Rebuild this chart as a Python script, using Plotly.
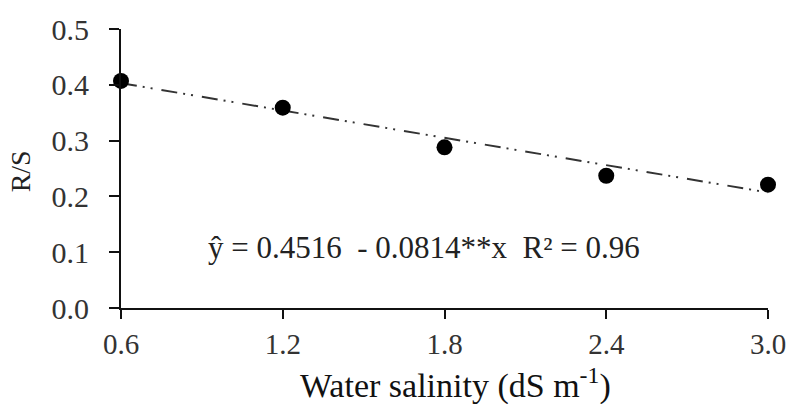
import plotly.graph_objects as go

# Data
salinity = [0.6, 1.2, 1.8, 2.4, 3.0]
rs_ratio = [0.407, 0.359, 0.288, 0.237, 0.221]

# Fitted line endpoints (ŷ = 0.4516 - 0.0814x)
fit_x = [0.6, 3.0]
fit_y = [0.403, 0.207]

x_ticks = [0.6, 1.2, 1.8, 2.4, 3.0]
x_ticklabels = ["0.6", "1.2", "1.8", "2.4", "3.0"]
y_ticks = [0.0, 0.1, 0.2, 0.3, 0.4, 0.5]
y_ticklabels = ["0.0", "0.1", "0.2", "0.3", "0.4", "0.5"]

equation = "ŷ = 0.4516  - 0.0814**x  R² = 0.96"
x_title = "Water salinity (dS m<sup>-1</sup>)"
y_title = "R/S"

FONT = "Liberation Serif"

fig = go.Figure()
fig.add_trace(go.Scatter(
    x=fit_x, y=fit_y, mode="lines",
    line=dict(color="#333333", width=2, dash="16px,6px,2px,6px,2px,9px"),
    hoverinfo="skip", showlegend=False, cliponaxis=False,
))
fig.add_trace(go.Scatter(
    x=salinity, y=rs_ratio, mode="markers",
    marker=dict(color="black", size=16),
    showlegend=False, cliponaxis=False,
))

fig.add_annotation(
    x=0.131, xref="paper", y=0.108, yref="y",
    text=equation, showarrow=False, xanchor="left", yanchor="middle",
    font=dict(family=FONT, size=31, color="#222222"),
)
fig.add_annotation(
    x=(460 - 121) / 656, xref="paper", y=-0.352, yref="paper",
    text=x_title, showarrow=False, xanchor="center", yanchor="bottom",
    borderpad=0,
    font=dict(family=FONT, size=34, color="#111111"),
)
fig.add_annotation(
    x=-0.156, xref="paper", y=0.49, yref="paper",
    text=y_title, showarrow=False, xanchor="center", yanchor="middle",
    textangle=-90,
    font=dict(family=FONT, size=28, color="#222222"),
)

fig.update_layout(
    width=798, height=404,
    margin=dict(l=121, r=21, t=25, b=96),
    paper_bgcolor="white", plot_bgcolor="white",
    font=dict(family=FONT, size=26, color="#222222"),
    xaxis=dict(
        range=[0.6, 3.0], tickvals=x_ticks, ticktext=x_ticklabels,
        showgrid=False, zeroline=False, showline=True,
        linecolor="#111111", linewidth=2,
        ticks="outside", ticklen=9, tickwidth=2, tickcolor="#111111",
        tickfont=dict(family=FONT, size=29, color="#333333"),
    ),
    yaxis=dict(
        range=[0, 0.5], tickvals=y_ticks, ticktext=y_ticklabels,
        showgrid=False, zeroline=False, showline=True,
        linecolor="#111111", linewidth=2,
        ticks="outside", ticklen=10, tickwidth=2, tickcolor="#111111",
        ticklabelstandoff=14,
        tickfont=dict(family=FONT, size=30, color="#333333"),
    ),
)

fig.write_html("out.html")
